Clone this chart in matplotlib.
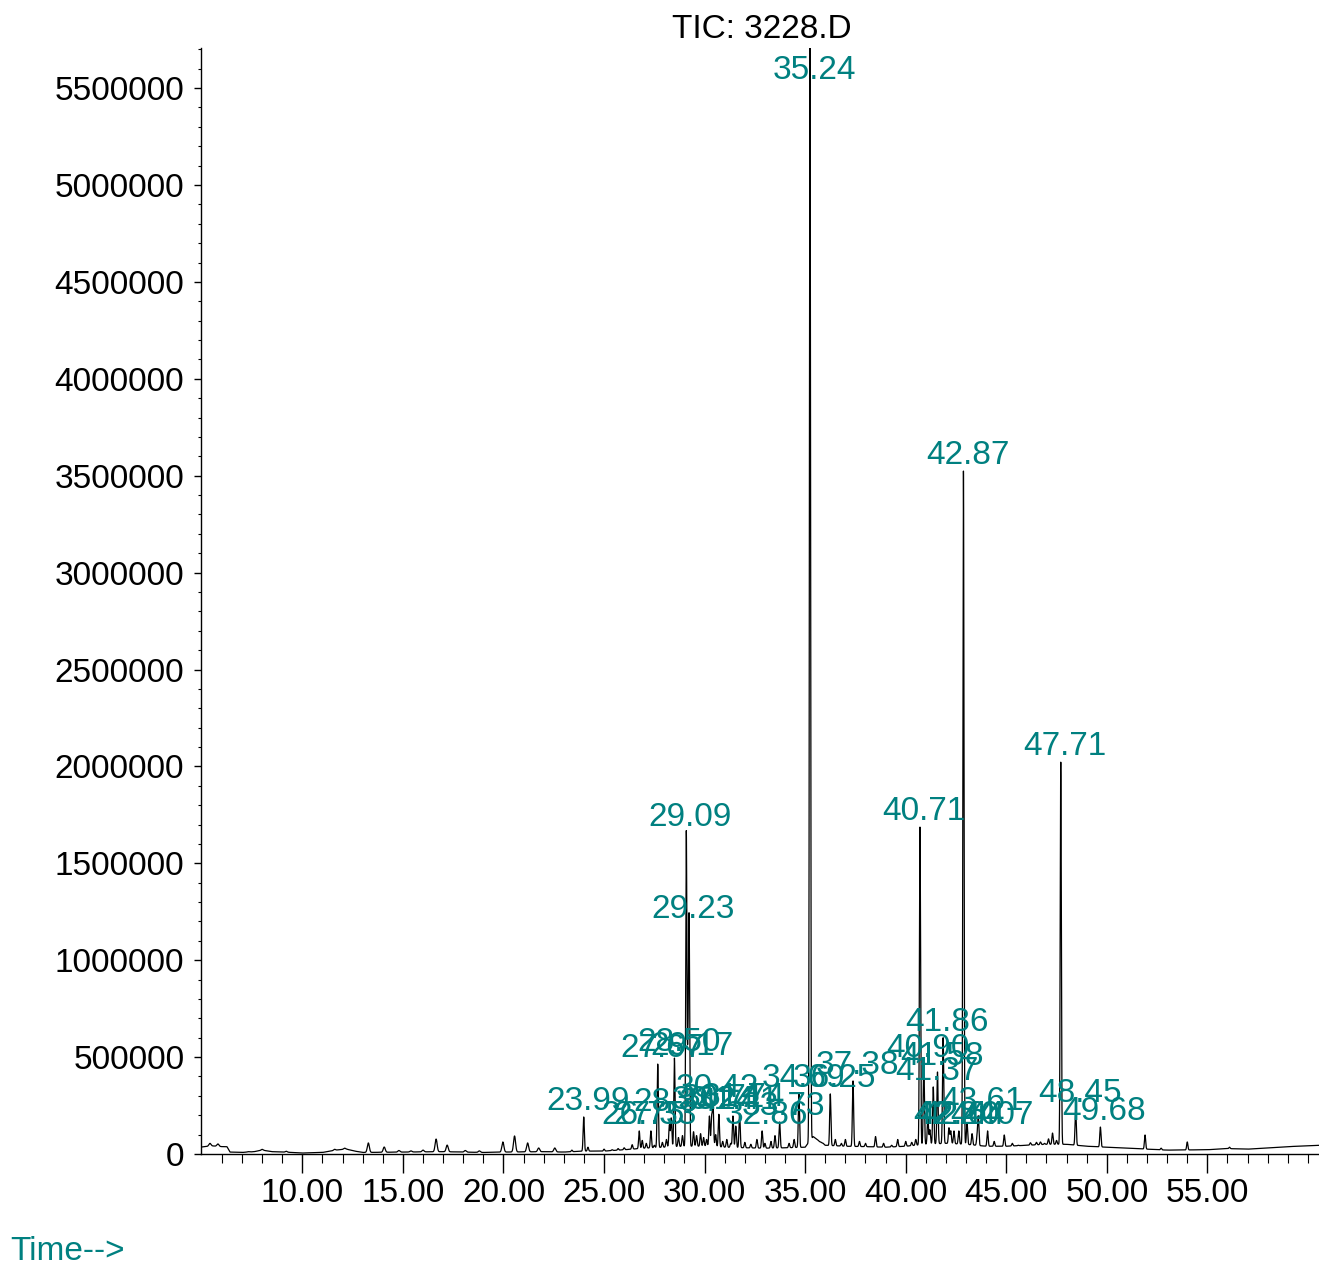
import numpy as np
import matplotlib
matplotlib.use("Agg")
import matplotlib.pyplot as plt
from matplotlib.ticker import FixedLocator, FuncFormatter

plt.rcParams['font.family'] = ['Liberation Sans', 'DejaVu Sans']

# ---------------- data ----------------
title = "TIC: 3228.D"
xlabel = "Time-->"

# labelled peaks: retention time, label text, apex height (abundance)
label_rt = [23.99, 26.75, 27.33, 28.34, 27.67, 28.50, 29.17, 29.09, 29.23,
            30.42, 30.24, 30.71, 31.41, 31.74, 32.86, 33.73, 34.69, 35.24,
            36.25, 37.38, 40.71, 40.90, 41.37, 41.58, 41.86, 42.24, 42.40,
            42.64, 42.87, 43.61, 44.07, 47.71, 48.45, 49.68]
label_text = ["23.99", "26.75", "27.33", "28.34", "27.67", "28.50", "29.17",
              "29.09", "29.23", "30.42", "30.24", "30.71", "31.41", "31.74",
              "32.86", "33.73", "34.69", "35.24", "36.25", "37.38", "40.71",
              "40.90", "41.37", "41.58", "41.86", "42.24", "42.40", "42.64",
              "42.87", "43.61", "44.07", "47.71", "48.45", "49.68"]
label_h = [191000, 119000, 119000, 185000, 464000, 495000, 475000, 1656000,
           1180000, 258000, 196000, 205000, 196000, 210000, 119000, 165000,
           310000, 5720000, 310000, 377000, 1687000, 464000, 346000, 423000,
           600000, 119000, 119000, 119000, 3524000, 191000, 119000, 2022000,
           232000, 139000]

# smaller, unlabelled peaks: retention time, apex height
minor_rt = [5.40, 5.80, 7.30, 8.00, 9.20, 11.60, 12.10, 13.28, 14.07, 14.80,
            15.40, 16.00, 16.65, 17.20, 18.10, 18.80, 19.97, 20.55, 21.20,
            21.75, 22.55, 23.40, 24.20, 25.00, 25.40, 25.70, 26.00, 26.40,
            26.90, 27.10, 27.50, 27.90, 28.10, 28.25, 28.70, 28.90, 29.45,
            29.60, 29.80, 29.95, 30.10, 30.35, 30.55, 30.90, 31.10, 31.30,
            31.55, 32.00, 32.30, 32.60, 33.00, 33.30, 33.50, 34.20, 34.45,
            35.70, 35.90, 36.50, 36.80, 37.00, 37.70, 38.00, 38.50, 38.90,
            39.30, 39.60, 40.00, 40.30, 40.50, 41.10, 41.20, 42.15, 43.05,
            43.30, 43.55, 44.40, 44.90, 45.30, 45.60, 45.90, 46.20, 46.50,
            46.70, 46.90, 47.10, 47.30, 47.50, 51.90, 52.70, 54.00, 56.10]
minor_h = [55000, 52000, 12000, 24000, 14000, 24000, 30000, 57000, 36000,
           18000, 16000, 20000, 77000, 46000, 18000, 16000, 62000, 93000,
           57000, 31000, 31000, 20000, 35000, 25000, 22000, 28000, 32000,
           48000, 70000, 55000, 45000, 60000, 75000, 150000, 85000, 95000,
           115000, 95000, 105000, 85000, 75000, 186000, 100000, 65000, 75000,
           55000, 144000, 60000, 50000, 75000, 55000, 65000, 95000, 55000,
           75000, 65000, 55000, 75000, 55000, 75000, 65000, 55000, 90000,
           55000, 45000, 75000, 65000, 60000, 75000, 190000, 125000, 135000,
           160000, 105000, 88000, 65000, 98000, 55000, 45000, 45000, 58000,
           60000, 62000, 55000, 78000, 108000, 70000, 98000, 30000, 62000,
           35000]

# slowly varying baseline: time, level
base_rt = [4.90, 5.50, 6.00, 6.25, 6.40, 7.00, 7.60, 8.00, 8.50, 9.50, 10.0,
           11.0, 11.8, 12.2, 12.6, 13.0, 15.0, 17.0, 19.0, 20.0, 22.0, 23.0,
           24.0, 25.0, 26.0, 27.0, 28.0, 29.0, 30.0, 31.0, 32.0, 33.0, 34.0,
           35.0, 35.4, 36.0, 37.0, 38.0, 39.0, 40.0, 41.0, 42.0, 43.0, 44.0,
           45.0, 46.0, 47.0, 48.0, 49.0, 50.0, 51.0, 52.0, 53.0, 55.0, 56.0,
           57.0, 59.0, 60.6]
base_lv = [35000, 42000, 38000, 38000, 10000, 8000, 12000, 20000, 12000,
           8000, 5000, 8000, 22000, 25000, 15000, 8000, 10000, 12000, 8000,
           10000, 12000, 10000, 15000, 15000, 22000, 30000, 35000, 40000,
           40000, 35000, 32000, 30000, 32000, 35000, 90000, 45000, 40000,
           38000, 35000, 40000, 50000, 55000, 50000, 40000, 40000, 45000,
           50000, 50000, 40000, 35000, 30000, 25000, 20000, 22000, 28000,
           25000, 38000, 45000]

# ---------------- figure ----------------
W, H = 1319, 1266
fig = plt.figure(figsize=(W / 100, H / 100), dpi=100)
ax = fig.add_axes([201 / W, 1 - 1154 / H, (W - 201) / W, (1154 - 48) / H])

xmin, xmax = 4.96, 60.55
ymax = 5707000
t = np.linspace(xmin, xmax, 60000)
base = np.interp(t, base_rt, base_lv)
sig = np.zeros_like(t)
all_rt = list(label_rt) + list(minor_rt)
all_h = list(label_h) + list(minor_h)
for rt, h in zip(all_rt, all_h):
    s = 0.028 if h > 1000000 else 0.03
    if rt < 23:
        s = 0.05
    amp = h - np.interp(rt, base_rt, base_lv)
    sig += amp * np.exp(-0.5 * ((t - rt) / s) ** 2)
trace = base + sig
ax.plot(t, trace, color='black', lw=0.9, zorder=3)

ax.set_xlim(xmin, xmax)
ax.set_ylim(0, ymax)

teal = '#008080'
for rt, txt, h in zip(label_rt, label_text, label_h):
    if h > ymax:
        ax.annotate(txt, xy=(rt, ymax), xytext=(3, -22), textcoords='offset points',
                    ha='center', va='baseline', color=teal, fontsize=24,
                    annotation_clip=False, zorder=4)
    else:
        ax.annotate(txt, xy=(rt, h), xytext=(3, 5), textcoords='offset points',
                    ha='center', va='baseline', color=teal, fontsize=24,
                    annotation_clip=False, zorder=4)

for s in ['top', 'right']:
    ax.spines[s].set_visible(False)
for s in ['left', 'bottom']:
    ax.spines[s].set_linewidth(1.0)

major_x = [10, 15, 20, 25, 30, 35, 40, 45, 50, 55]
minor_x = [v for v in range(6, 61) if v not in major_x]
ax.xaxis.set_major_locator(FixedLocator(major_x))
ax.xaxis.set_minor_locator(FixedLocator(minor_x))
ax.xaxis.set_major_formatter(FuncFormatter(lambda v, p: f"{v:.2f}"))
ax.tick_params(axis='x', which='major', length=14, width=1.0, labelsize=24, pad=3.5)
ax.tick_params(axis='x', which='minor', length=6.5, width=0.8)

ax.yaxis.set_major_locator(FixedLocator(list(range(0, 5500001, 500000))))
ax.yaxis.set_minor_locator(FixedLocator(list(range(0, 5700001, 100000))))
ax.yaxis.set_major_formatter(FuncFormatter(lambda v, p: f"{int(round(v))}"))
ax.tick_params(axis='y', which='major', length=5, width=1.0, labelsize=24, pad=7)
ax.tick_params(axis='y', which='minor', length=2.2, width=0.8)

fig.text(762 / W, 1 - 30 / H, title, ha='center', va='center', fontsize=24, color='black')
fig.text(10 / W, 1 - 1251 / H, xlabel, ha='left', va='center', fontsize=24, color=teal)

fig.savefig('out.png', dpi=100)
